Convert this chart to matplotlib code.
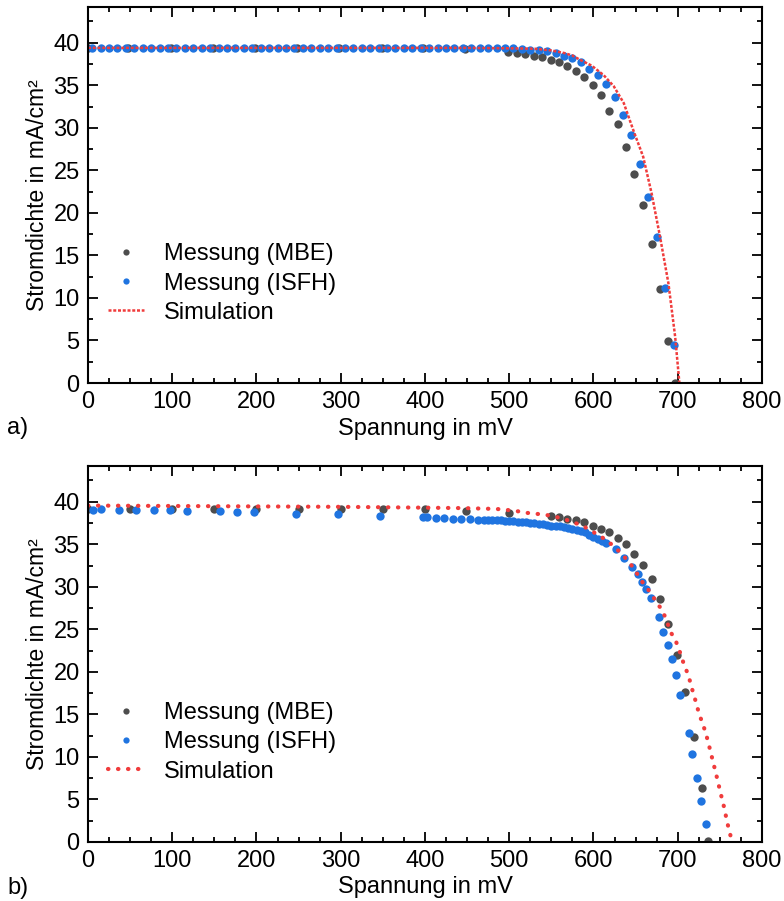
import matplotlib
matplotlib.use("Agg")
from matplotlib import pyplot as plt
from matplotlib.ticker import MultipleLocator

plt.rcParams['font.family'] = ['Liberation Sans', 'DejaVu Sans']
plt.rcParams['font.size'] = 17

# ---- a) data ----
a_mbe_v = [0, 48, 98, 148, 198, 248, 298, 349, 398, 448,
           499, 509, 519, 529, 539, 549, 559, 569, 579, 589, 599, 609, 619, 629, 639,
           648, 659, 669, 679, 689, 697]
a_mbe_j = [39.4, 39.4, 39.4, 39.4, 39.4, 39.4, 39.4, 39.4, 39.4, 39.3,
           38.9, 38.8, 38.7, 38.5, 38.3, 38.0, 37.7, 37.3, 36.7, 36.0, 35.0, 33.8, 32.0, 30.4, 27.7,
           24.6, 20.9, 16.4, 11.1, 4.9, 0.0]

a_isfh_v = [5, 15, 25, 35, 45, 55, 65, 75, 85, 95, 105, 115, 125, 135, 145, 155, 165, 175,
            185, 195, 205, 215, 225, 235, 245, 255, 265, 275, 285, 295, 305, 315, 325, 335,
            345, 355, 365, 375, 385, 395, 405, 415, 425, 435, 445, 455, 465,
            475, 485, 495, 505, 515, 525, 535, 545, 555, 565, 575, 585, 595, 605, 615, 625,
            635, 645, 655, 665, 675, 685, 695]
a_isfh_j = [39.4, 39.4, 39.4, 39.4, 39.4, 39.4, 39.4, 39.4, 39.4, 39.4, 39.4, 39.4, 39.4, 39.4,
            39.4, 39.4, 39.4, 39.4, 39.4, 39.4, 39.4, 39.4, 39.4, 39.4, 39.4, 39.4, 39.4, 39.4,
            39.4, 39.4, 39.4, 39.4, 39.4, 39.4, 39.4, 39.4, 39.4, 39.4, 39.4, 39.4, 39.4, 39.4,
            39.4, 39.4, 39.4, 39.4, 39.4,
            39.4, 39.4, 39.4, 39.4, 39.3, 39.2, 39.1, 39.0, 38.8, 38.5, 38.2, 37.7, 36.9, 36.2,
            35.1, 33.6, 31.5, 29.1, 25.8, 21.9, 17.2, 11.2, 4.5]

a_sim_v = [0, 100, 200, 300, 400, 450, 500, 530, 550, 565, 575, 584, 598, 612, 624, 636,
           647, 659, 669, 679, 689, 697, 702]
a_sim_j = [39.4, 39.4, 39.4, 39.4, 39.4, 39.4, 39.35, 39.3, 39.1, 38.8, 38.5, 38.0, 37.3,
           36.2, 34.9, 32.9, 29.8, 26.6, 22.3, 17.2, 11.7, 5.4, 0.0]

# ---- b) data ----
b_mbe_v = [0, 50, 100, 150, 200, 250, 300, 350, 400, 449, 500,
           549, 559, 569, 579, 589, 599, 609, 619, 629, 639, 648, 659, 669, 679, 689,
           699, 709, 719, 729, 736]
b_mbe_j = [39.2, 39.2, 39.2, 39.2, 39.2, 39.2, 39.2, 39.2, 39.1, 38.9, 38.7,
           38.35, 38.2, 38.0, 37.8, 37.6, 37.2, 36.8, 36.4, 35.7, 35.0, 33.9, 32.6, 30.9, 28.6,
           25.6, 22.0, 17.6, 12.3, 6.4, 0.1]

b_isfh_v = [6, 16, 37, 57, 78, 97, 117, 157, 177, 197, 247, 297, 347,
            398, 403, 413, 423, 433, 443, 453, 463,
            470, 475, 480, 485, 490, 495, 500, 505, 510, 515, 520, 525, 530, 535, 540, 545,
            550, 555, 560, 565, 570, 575, 580, 585, 590, 595, 600, 605, 610, 615,
            627, 636, 646, 653, 658, 662, 668, 678, 683, 688, 693, 698, 703, 713, 717, 723,
            728, 733]
b_isfh_j = [39.05, 39.1, 39.05, 39.05, 39.0, 39.0, 38.95, 38.9, 38.8, 38.8, 38.6, 38.5, 38.3,
            38.2, 38.15, 38.1, 38.05, 38.0, 37.95, 37.95, 37.9,
            37.9, 37.85, 37.85, 37.8, 37.8, 37.75, 37.7, 37.7, 37.65, 37.6, 37.6, 37.5, 37.45,
            37.4, 37.35, 37.3, 37.2, 37.15, 37.1, 37.0, 36.9, 36.8, 36.7, 36.55, 36.4, 36.1,
            35.9, 35.6, 35.35, 35.1,
            34.4, 33.4, 32.3, 31.5, 30.6, 29.7, 28.7, 26.4, 24.7, 23.2, 21.5, 19.6, 17.3, 12.8,
            10.3, 7.5, 4.8, 2.1]

b_sim_v = [0, 100, 200, 300, 400, 445, 465, 485, 496, 509, 520, 530, 540, 550, 560, 567,
           576, 586, 594, 602, 612, 620, 628, 636, 643, 649, 655, 662, 668, 674, 679, 685,
           692, 697, 701, 707, 711, 714, 717, 720, 723, 726, 730, 733, 736, 741, 746, 751,
           756, 758, 763, 764]
b_sim_j = [39.55, 39.5, 39.45, 39.4, 39.3, 39.25, 39.2, 39.15, 39.05, 38.9, 38.7, 38.6, 38.5,
           38.35, 38.1, 37.9, 37.6, 37.2, 36.8, 36.3, 35.7, 35.1, 34.4, 33.6, 32.8, 32.0, 31.0,
           30.0, 29.3, 28.3, 27.6, 26.5, 24.6, 23.8, 22.8, 21.0, 20.0, 19.1, 18.0, 17.0, 15.9,
           14.9, 13.8, 12.9, 11.8, 9.8, 7.8, 5.7, 3.7, 2.6, 0.6, 0.0]

labels = ['Messung (MBE)', 'Messung (ISFH)', 'Simulation']
grey = '#4d4d4d'
blue = '#1f74e0'
red = '#f03c3c'

fig = plt.figure(figsize=(7.84, 9.01), dpi=100)
ax1 = fig.add_axes([0.1122, 0.5749, 0.8597, 0.4173])
ax2 = fig.add_axes([0.1122, 0.0655, 0.8597, 0.4173])

panels = [
    (ax1, a_mbe_v, a_mbe_j, a_isfh_v, a_isfh_j, a_sim_v, a_sim_j, (1.2, 0.7), 1.8, 'butt'),
    (ax2, b_mbe_v, b_mbe_j, b_isfh_v, b_isfh_j, b_sim_v, b_sim_j, (0.1, 2.3), 3.0, 'round'),
]

for ax, mv, mj, iv, ij, sv, sj, dashes, lw, cap in panels:
    ax.plot(mv, mj, 'o', color=grey, markersize=6, markeredgewidth=0, label=labels[0])
    ax.plot(iv, ij, 'o', color=blue, markersize=6, markeredgewidth=0, label=labels[1])
    sim, = ax.plot(sv, sj, color=red, lw=lw, label=labels[2])
    sim.set_dashes(dashes)
    sim.set_dash_capstyle(cap)

    ax.set_xlim(0, 800)
    ax.set_ylim(0, 44.2)
    ax.xaxis.set_major_locator(MultipleLocator(100))
    ax.xaxis.set_minor_locator(MultipleLocator(25))
    ax.yaxis.set_major_locator(MultipleLocator(5))
    ax.yaxis.set_minor_locator(MultipleLocator(2.5))
    ax.tick_params(which='both', direction='in', top=True, right=True, width=1.3)
    ax.tick_params(which='major', length=7, pad=6)
    ax.tick_params(which='minor', length=3.5)
    for s in ax.spines.values():
        s.set_linewidth(1.5)
    ax.set_xlabel('Spannung in mV', labelpad=3)
    ax.set_ylabel('Stromdichte in mA/cm²', fontsize=16.5, labelpad=3)
    ax.legend(loc='lower left', bbox_to_anchor=(0.03, 0.158), frameon=False,
              handlelength=1.5, handletextpad=0.85, labelspacing=0.3,
              borderpad=0, borderaxespad=0, markerscale=0.75)

fig.text(18 / 784, 1 - 428 / 901, 'a)', ha='center', va='center')
fig.text(18 / 784, 1 - 888 / 901, 'b)', ha='center', va='center')

fig.savefig('out.png', dpi=100)
